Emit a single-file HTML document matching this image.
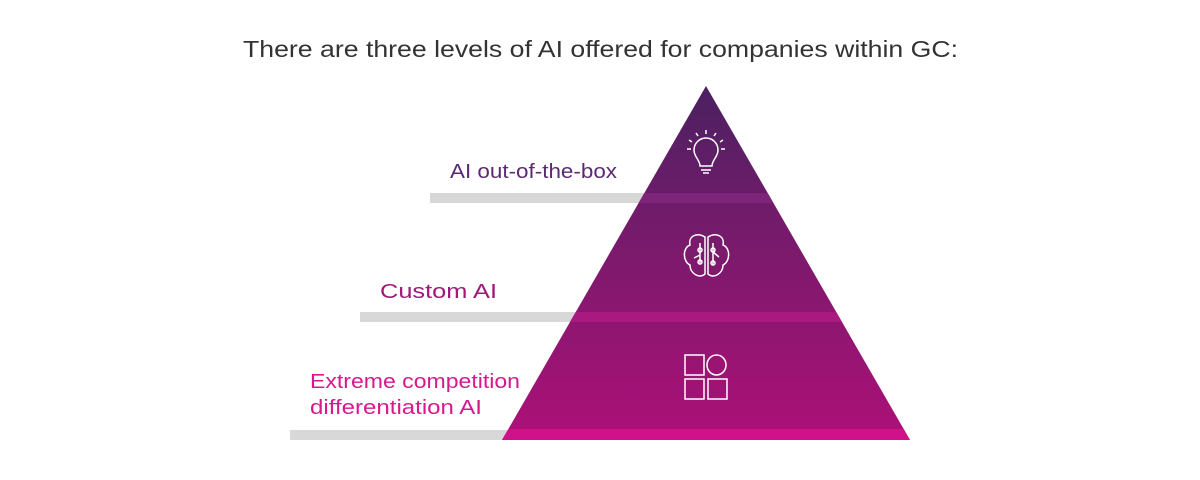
<!DOCTYPE html>
<html><head><meta charset="utf-8"><style>
body{margin:0;background:#fff;}
svg{display:block}
text{font-family:"Liberation Sans",sans-serif}
</style></head><body>
<svg width="1200" height="480" viewBox="0 0 1200 480">
<defs>
<linearGradient id="g" x1="0" y1="86" x2="0" y2="440" gradientUnits="userSpaceOnUse">
<stop offset="0" stop-color="#4a2160"/>
<stop offset="0.45" stop-color="#7a1a6c"/>
<stop offset="1" stop-color="#ad1078"/>
</linearGradient>
<clipPath id="c"><polygon points="706,86 910,440 502,440"/></clipPath>
</defs>
<text x="243" y="57" font-size="23" fill="#333" textLength="715" lengthAdjust="spacingAndGlyphs">There are three levels of AI offered for companies within GC:</text>
<rect x="430" y="193" width="220" height="10" fill="#d8d8d8"/>
<rect x="360" y="312" width="230" height="10" fill="#d8d8d8"/>
<rect x="290" y="430" width="230" height="10" fill="#d8d8d8"/>
<polygon points="706,86 910,440 502,440" fill="url(#g)"/>
<g clip-path="url(#c)">
<rect x="400" y="193" width="600" height="10" fill="#7e2479"/>
<rect x="400" y="312" width="600" height="10" fill="#a81a80"/>
<rect x="400" y="429" width="600" height="11" fill="#d0118a"/>
</g>
<text x="450" y="178" font-size="20" fill="#5b2a73" textLength="167" lengthAdjust="spacingAndGlyphs">AI out-of-the-box</text>
<text x="380" y="298" font-size="20" fill="#a0197a" textLength="117" lengthAdjust="spacingAndGlyphs">Custom AI</text>
<text x="310" y="388" font-size="20" fill="#d6198d" textLength="210" lengthAdjust="spacingAndGlyphs">Extreme competition</text>
<text x="310" y="414" font-size="20" fill="#d6198d" textLength="172" lengthAdjust="spacingAndGlyphs">differentiation AI</text>
<g fill="none" stroke="#fff" stroke-width="1.5">
<path d="M700,166 C700,160 694,157 694,150 A12,12 0 1 1 718,150 C718,157 712,160 712,166 Z"/>
<path d="M701,170 h10 M703,173 h6"/>
<path d="M706,130 v4 M696,133 l2,3 M716,133 l-2,3 M689,140 l3,2 M723,140 l-3,2 M687,149 h4 M725,149 h-4"/>
<path d="M705,237 C697,232 688,236 690,245 C682,248 683,262 690,265 C690,274 700,279 705,274 Z"/>
<path d="M708,237 C716,232 725,236 723,245 C731,248 730,262 723,265 C723,274 713,279 708,274 Z"/>
<path d="M700,243 v20 M713,243 v22 M713,252 l6,5 M694,258 l6,-3"/>
<circle cx="700" cy="250" r="2"/><circle cx="713" cy="250" r="2"/><circle cx="700" cy="262" r="2"/><circle cx="713" cy="263" r="2"/>
<rect x="685" y="355" width="19" height="20"/>
<ellipse cx="716.5" cy="365" rx="9.5" ry="10"/>
<rect x="685" y="379" width="19" height="20"/>
<rect x="708" y="379" width="19" height="20"/>
</g>
</svg>
</body></html>
